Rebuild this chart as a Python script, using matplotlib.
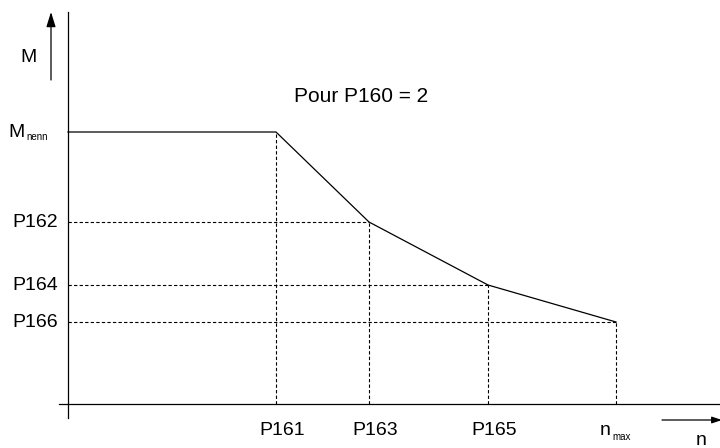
import matplotlib
matplotlib.use("Agg")
import matplotlib.pyplot as plt

plt.rcParams['font.family'] = ['Liberation Sans', 'DejaVu Sans']

# Speed breakpoints (n) and torque levels (M) of the derating curve
n_labels = ["P161", "P163", "P165", "n"]
n_values = [208, 301, 420, 548]
m_labels = ["M", "P162", "P164", "P166"]
m_values = [272, 182, 119, 82]
title_text = "Pour P160 = 2"

fig = plt.figure(figsize=(7.2, 4.48), dpi=100)
ax = fig.add_axes([0, 0, 1, 1])
ax.set_xlim(-68, 652)
ax.set_ylim(-44, 404)
ax.axis("off")

lw = 0.9
fs = 14

# axes lines
ax.plot([0, 0], [-14, 392], color="black", lw=lw)
ax.plot([-9, 652], [0, 0], color="black", lw=lw)

# curve: flat at nominal torque, then decreasing segments
xs = [0] + n_values
ys = [m_values[0]] + m_values
ax.plot(xs, ys, color="black", lw=lw)

# dashed guides
for nx, my in zip(n_values[1:], m_values[1:]):
    ax.plot([0, nx], [my, my], color="black", lw=0.8, ls=(0, (3, 2)))
for nx, my in zip(n_values, m_values):
    ax.plot([nx, nx], [0, my], color="black", lw=0.8, ls=(0, (3, 2)))

# y labels
ax.text(-60, m_values[0] - 5, "M", ha="left", va="baseline", fontsize=fs)
ax.text(-42, m_values[0] - 8, "nenn", ha="left", va="baseline", fontsize=7)
for lab, my in zip(m_labels[1:], m_values[1:]):
    ax.text(-10, my, lab, ha="right", va="center", fontsize=fs)

# x labels
for lab, nx in zip(n_labels[:3], n_values[:3]):
    ax.text(nx + 6, -26, lab, ha="center", va="center", fontsize=fs)
ax.text(n_values[3] - 16, -31, "n", ha="left", va="baseline", fontsize=fs)
ax.text(n_values[3] - 4, -36, "max", ha="left", va="baseline", fontsize=7)

# axis arrows and names
ax.annotate("", xy=(-17, 392), xytext=(-17, 324),
            arrowprops=dict(arrowstyle="-|>,head_length=0.9,head_width=0.28",
                            color="black", lw=lw, shrinkA=0, shrinkB=0))
ax.text(-40, 347, "M", ha="center", va="center", fontsize=fs)
ax.annotate("", xy=(654, -16), xytext=(594, -16),
            arrowprops=dict(arrowstyle="-|>,head_length=0.6,head_width=0.2",
                            color="black", lw=lw, shrinkA=0, shrinkB=0),
            annotation_clip=False)
ax.text(633, -41, "n", ha="center", va="baseline", fontsize=fs)

ax.text(293, 308, title_text, ha="center", va="center", fontsize=15)

fig.savefig("out.png", dpi=100)
